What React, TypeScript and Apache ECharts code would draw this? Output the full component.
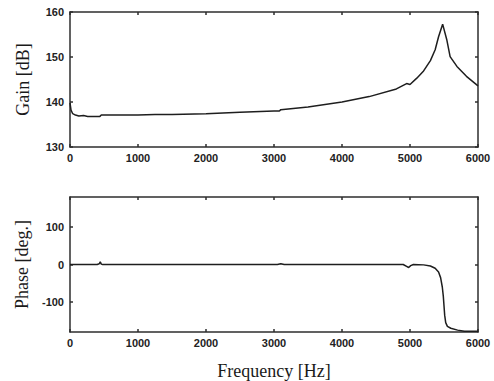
import React, { useEffect, useRef } from "react";
import * as echarts from "echarts";

// Gain curve (Hz, dB)
const gainFreq = [0, 15, 40, 80, 130, 200, 260, 440, 460, 1000, 1250, 1500, 2000, 2500, 3000, 3080, 3100, 3500, 4000, 4400, 4800, 4950, 5000, 5100, 5200, 5300, 5370, 5420, 5480, 5540, 5590, 5690, 5830, 6000];
const gainDb = [139.8, 138.2, 137.4, 137.1, 136.9, 137.0, 136.8, 136.8, 137.1, 137.1, 137.2, 137.2, 137.4, 137.7, 138.0, 138.0, 138.3, 138.9, 140.0, 141.2, 142.9, 144.1, 143.9, 145.3, 146.9, 149.2, 151.6, 154.5, 157.3, 153.9, 150.1, 147.9, 145.7, 143.6];

// Phase curve (Hz, deg)
const phaseFreq = [0, 400, 430, 445, 460, 480, 3050, 3100, 3150, 4900, 4950, 4980, 5010, 5050, 5200, 5300, 5370, 5420, 5450, 5475, 5490, 5500, 5510, 5525, 5550, 5600, 5700, 5800, 6000];
const phaseDeg = [0, 0, 2, 7, 1, 0, 0, 2, 0, 0, -5, -8, -3, 0, -1, -4, -10, -20, -35, -60, -85, -110, -135, -155, -165, -170, -175, -178, -178];

const freqTicks = [0, 1000, 2000, 3000, 4000, 5000, 6000];
const gainTicks = [130, 140, 150, 160];
const phaseTicks = [-100, 0, 100];

const frame = "#2e2e2e";
const tickFont = { fontFamily: "Liberation Sans", fontSize: 11, fontWeight: "bold" as const, color: "#222" };
const nameFont = { fontFamily: "Liberation Serif", fontSize: 18, color: "#1a1a1a" };
const plain = (v: number) => String(v);

export default function App() {
  const ref = useRef<HTMLDivElement>(null);
  useEffect(() => {
    if (!ref.current) return;
    const chart = echarts.init(ref.current, undefined, { renderer: "svg" });
    const axisLine = { show: true, onZero: false, lineStyle: { color: frame, width: 1.5 } };
    const tickIn = { show: true, inside: true, length: 3, lineStyle: { color: frame, width: 1.5 } };
    const xBase = (grid: number, pos: "bottom" | "top", labels: boolean, name?: string) => ({
      type: "value" as const,
      gridIndex: grid,
      position: pos,
      min: 0,
      max: 6000,
      interval: 1000,
      axisLine,
      axisTick: { ...tickIn, customValues: freqTicks },
      splitLine: { show: false },
      axisLabel: { show: labels, margin: 5, formatter: plain, customValues: freqTicks, ...tickFont },
      name: name || "",
      nameLocation: "middle" as const,
      nameGap: 30,
      nameTextStyle: nameFont,
    });
    chart.setOption({
      animation: false,
      backgroundColor: "#fff",
      grid: [
        { left: 70, top: 12, width: 408, height: 135 },
        { left: 70, top: 197, width: 408, height: 135 },
      ],
      xAxis: [
        xBase(0, "bottom", true),
        xBase(0, "top", false),
        xBase(1, "bottom", true, "Frequency [Hz]"),
        xBase(1, "top", false),
      ],
      yAxis: [
        {
          type: "value", gridIndex: 0, position: "left", min: 130, max: 160, interval: 10,
          axisLine, axisTick: { ...tickIn, customValues: gainTicks }, splitLine: { show: false },
          axisLabel: { margin: 6, formatter: plain, customValues: gainTicks, ...tickFont },
          name: "Gain [dB]", nameLocation: "middle", nameGap: 38, nameTextStyle: nameFont,
        },
        {
          type: "value", gridIndex: 0, position: "right", min: 130, max: 160, interval: 10,
          axisLine, axisTick: { ...tickIn, customValues: gainTicks }, splitLine: { show: false }, axisLabel: { show: false },
        },
        {
          type: "value", gridIndex: 1, position: "left", min: -180, max: 180,
          axisLine,
          axisTick: { ...tickIn, customValues: phaseTicks },
          splitLine: { show: false },
          axisLabel: { margin: 6, formatter: plain, ...tickFont, customValues: phaseTicks },
          name: "Phase [deg.]", nameLocation: "middle", nameGap: 38, nameTextStyle: nameFont,
        },
        {
          type: "value", gridIndex: 1, position: "right", min: -180, max: 180,
          axisLine,
          axisTick: { ...tickIn, customValues: phaseTicks },
          splitLine: { show: false },
          axisLabel: { show: false, customValues: phaseTicks },
        },
      ],
      series: [
        {
          type: "line", xAxisIndex: 0, yAxisIndex: 0, showSymbol: false,
          lineStyle: { color: "#1e1e1e", width: 1.5 },
          data: gainFreq.map((f, i) => [f, gainDb[i]]),
        },
        {
          type: "line", xAxisIndex: 2, yAxisIndex: 2, showSymbol: false,
          lineStyle: { color: "#1e1e1e", width: 1.5 },
          data: phaseFreq.map((f, i) => [f, phaseDeg[i]]),
        },
      ],
    });
    return () => chart.dispose();
  }, []);
  return <div ref={ref} style={{ position: "absolute", left: 0, top: 0, width: 494, height: 381 }} />;
}
